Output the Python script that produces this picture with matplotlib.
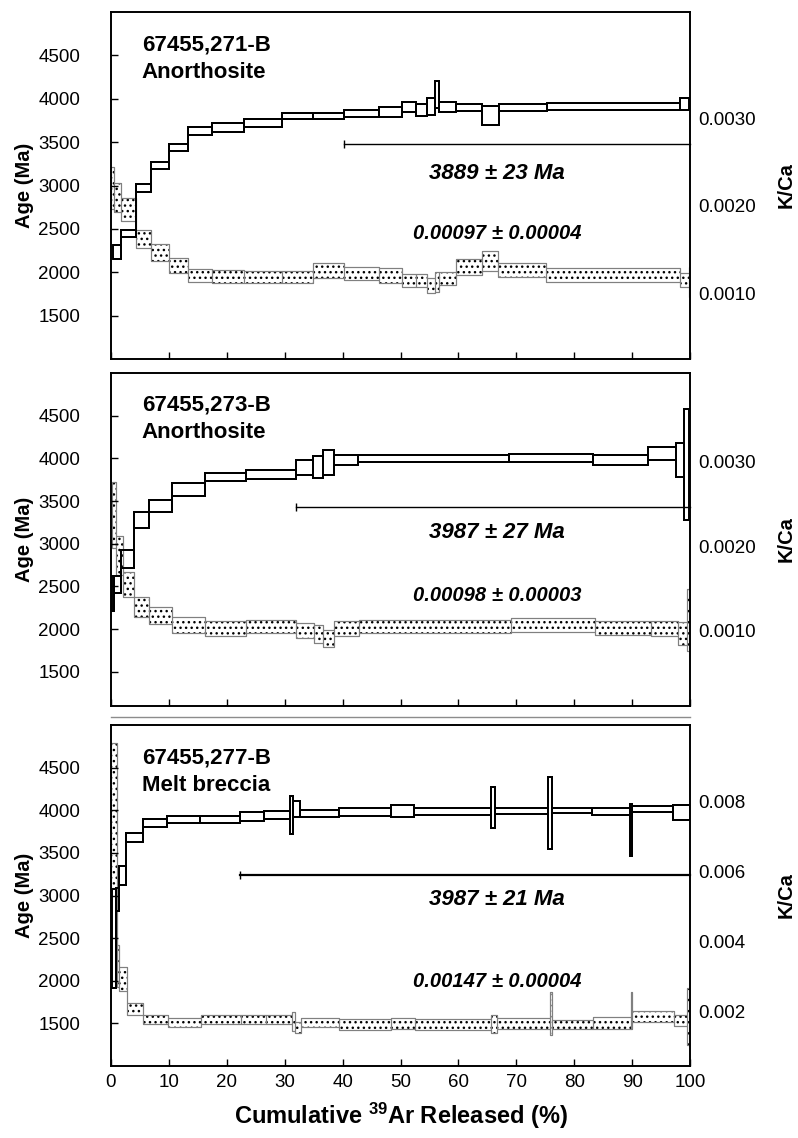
import matplotlib
matplotlib.use('Agg')
import matplotlib.pyplot as plt
import numpy as np

plt.rcParams['font.family'] = ['Liberation Sans', 'DejaVu Sans']
plt.rcParams['mathtext.fontset'] = 'custom'
plt.rcParams['mathtext.bf'] = 'Liberation Sans:bold'
plt.rcParams['mathtext.rm'] = 'Liberation Sans:bold'
plt.rcParams['mathtext.default'] = 'bf'
plt.rcParams['hatch.linewidth'] = 1.0

# ---------------- data ----------------
# Panel 1: 67455,271-B Anorthosite
p1_age_edges = [0.4, 1.7, 4.3, 6.9, 10.0, 13.3, 17.5, 23.0, 29.6, 34.9, 40.3, 46.3, 50.2,
                52.6, 54.6, 56.0, 56.6, 59.6, 64.1, 67.0, 75.3, 98.3, 99.9]
p1_age_lo = [2153, 2406, 2925, 3190, 3398, 3582, 3617, 3674, 3767, 3767, 3790, 3790, 3847,
             3800, 3813, 3893, 3847, 3858, 3697, 3858, 3870, 3870]
p1_age_hi = [2314, 2487, 3017, 3271, 3478, 3674, 3720, 3767, 3836, 3836, 3870, 3905, 3963,
             3940, 4010, 4205, 3963, 3940, 3917, 3940, 3951, 4010]
p1_kca_edges = [0, 0.5, 1.7, 4.3, 6.9, 10.0, 13.3, 17.5, 23.0, 29.6, 34.9, 40.3, 46.3, 50.2,
                52.6, 54.6, 56.0, 56.6, 59.6, 64.1, 66.8, 75.2, 98.3, 99.8, 100]
p1_kca_lo = [0.00196, 0.00193, 0.00183, 0.00152, 0.00137, 0.00123, 0.00113, 0.00112, 0.00112,
             0.00112, 0.00118, 0.00115, 0.00112, 0.00107, 0.00107, 0.00100, 0.00101, 0.00109,
             0.00121, 0.00126, 0.00119, 0.00113, 0.00107, 0.00096]
p1_kca_hi = [0.00244, 0.00226, 0.00209, 0.00172, 0.00156, 0.00140, 0.00128, 0.00127, 0.00126,
             0.00126, 0.00135, 0.00130, 0.00129, 0.00122, 0.00122, 0.00117, 0.00124, 0.00124,
             0.00139, 0.00148, 0.00135, 0.00129, 0.00123, 0.00130]

# Panel 2: 67455,273-B Anorthosite
p2_age_edges = [0.1, 0.5, 1.8, 4.0, 6.5, 10.5, 16.2, 23.3, 31.9, 34.9, 36.6, 38.5, 42.7,
                68.8, 83.3, 92.8, 97.6, 99.0, 99.9]
p2_age_lo = [2217, 2427, 2717, 3180, 3368, 3563, 3731, 3759, 3809, 3766, 3809, 3922, 3953,
             3953, 3926, 3981, 3786, 3282]
p2_age_hi = [2627, 2627, 2927, 3376, 3516, 3712, 3829, 3868, 3981, 4032, 4102, 4043, 4043,
             4051, 4039, 4137, 4176, 4578]
p2_kca_edges = [0.2, 0.9, 2.0, 4.0, 6.6, 10.5, 16.2, 23.3, 31.9, 35.1, 36.7, 38.6, 42.8,
                69.1, 83.6, 93.2, 98.0, 99.5, 100]
p2_kca_lo = [0.00198, 0.00166, 0.00140, 0.00116, 0.00108, 0.00097, 0.00094, 0.00097, 0.00091,
             0.00086, 0.00081, 0.00094, 0.00097, 0.00099, 0.00095, 0.00094, 0.00083, 0.00076]
p2_kca_hi = [0.00276, 0.00212, 0.00170, 0.00140, 0.00128, 0.00116, 0.00111, 0.00113, 0.00109,
             0.00107, 0.00101, 0.00111, 0.00113, 0.00115, 0.00111, 0.00111, 0.00110, 0.00149]

# Panel 3: 67455,277-B Melt breccia
p3_age_edges = [0.2, 0.9, 1.3, 2.6, 5.5, 9.7, 15.3, 22.3, 26.5, 30.9, 31.5, 32.7, 39.3, 48.3,
                52.4, 65.6, 66.4, 75.5, 76.1, 83.0, 89.6, 90.0, 97.0, 100]
p3_age_lo = [1920, 2820, 3125, 3622, 3798, 3856, 3845, 3876, 3892, 3720, 3915, 3915, 3935,
             3915, 3943, 3791, 3955, 3544, 3962, 3947, 3466, 3982, 3888]
p3_age_hi = [3080, 3090, 3350, 3732, 3903, 3931, 3927, 3982, 3994, 4169, 4111, 4002, 4025,
             4060, 4032, 4275, 4025, 4392, 4032, 4025, 4079, 4052, 4060]
p3_kca_edges = [0, 1.0, 1.4, 2.7, 5.6, 9.8, 15.5, 22.5, 26.7, 31.2, 31.7, 32.8, 39.4, 48.3,
                52.5, 65.7, 66.6, 75.8, 76.1, 83.2, 89.8, 90.0, 97.2, 99.5, 100]
p3_kca_lo = [0.00551, 0.00270, 0.00258, 0.00189, 0.00163, 0.00156, 0.00163, 0.00163, 0.00163,
             0.00145, 0.00137, 0.00154, 0.00148, 0.00151, 0.00148, 0.00139, 0.00151, 0.00132,
             0.00149, 0.00151, 0.00149, 0.00170, 0.00158, 0.00104]
p3_kca_hi = [0.00965, 0.00389, 0.00326, 0.00223, 0.00189, 0.00181, 0.00189, 0.00189, 0.00189,
             0.00199, 0.00170, 0.00181, 0.00177, 0.00181, 0.00177, 0.00189, 0.00181, 0.00255,
             0.00175, 0.00185, 0.00255, 0.00201, 0.00189, 0.00266]

sample_names = ["67455,271-B\nAnorthosite", "67455,273-B\nAnorthosite", "67455,277-B\nMelt breccia"]
plateau_start = [40.3, 31.9, 22.2]
plateau_level = [3475, 3426, 3243]
age_texts = ["3889 ± 23 Ma", "3987 ± 27 Ma", "3987 ± 21 Ma"]
kca_texts = ["0.00097 ± 0.00004", "0.00098 ± 0.00003", "0.00147 ± 0.00004"]

age_ticks = [1500, 2000, 2500, 3000, 3500, 4000, 4500]
kca_ticks = [[0.0010, 0.0020, 0.0030], [0.0010, 0.0020, 0.0030], [0.002, 0.004, 0.006, 0.008]]
kca_ticklabels = [["0.0010", "0.0020", "0.0030"], ["0.0010", "0.0020", "0.0030"],
                  ["0.002", "0.004", "0.006", "0.008"]]
x_ticks = list(range(0, 101, 10))

# ---------------- layout ----------------
W, H = 798, 1138
fig = plt.figure(figsize=(W / 100, H / 100), dpi=100)

panel_px = [(12, 359), (373, 706), (725, 1066)]
age_lims = [(1000, 5000), (1100, 5000), (1000, 5000)]
kca_lims = [(0.000249, 0.004215), (0.00011, 0.00405), (0.00044, 0.01017)]
age_text_y = [0.536, 0.52, 0.487]
kca_text_y = [0.363, 0.333, 0.247]
plat_lw = [1.0, 1.0, 1.6]

panels = [
    (p1_age_edges, p1_age_lo, p1_age_hi, p1_kca_edges, p1_kca_lo, p1_kca_hi),
    (p2_age_edges, p2_age_lo, p2_age_hi, p2_kca_edges, p2_kca_lo, p2_kca_hi),
    (p3_age_edges, p3_age_lo, p3_age_hi, p3_kca_edges, p3_kca_lo, p3_kca_hi),
]

TICK_FS = 13.5
AGE_LW = 1.4
KCA_LW = 0.8
KCA_EC = '0.5'
for i, (ae, alo, ahi, ke, klo, khi) in enumerate(panels):
    top, bot = panel_px[i]
    ax = fig.add_axes([111 / W, 1 - bot / H, 579 / W, (bot - top) / H])
    ax2 = ax.twinx()
    ax.set_zorder(ax2.get_zorder() + 1)
    ax.patch.set_visible(False)

    ae = np.array(ae); alo = np.array(alo); ahi = np.array(ahi)
    ke = np.array(ke); klo = np.array(klo); khi = np.array(khi)

    # K/Ca spectrum (dotted boxes, connected staircase)
    ax2.bar(ke[:-1], khi - klo, width=np.diff(ke), bottom=klo, align='edge',
            color='white', edgecolor='black', linewidth=0, hatch='...', zorder=1)
    ax2.bar(ke[:-1], khi - klo, width=np.diff(ke), bottom=klo, align='edge',
            fill=False, edgecolor=KCA_EC, linewidth=KCA_LW, zorder=2)
    ax2.stairs(khi, ke, baseline=None, color=KCA_EC, lw=KCA_LW, zorder=2)
    ax2.stairs(klo, ke, baseline=None, color=KCA_EC, lw=KCA_LW, zorder=2)

    # Age spectrum (open boxes, connected staircase)
    ax.bar(ae[:-1], ahi - alo, width=np.diff(ae), bottom=alo, align='edge',
           fill=False, edgecolor='black', linewidth=AGE_LW, zorder=3)
    ax.stairs(ahi, ae, baseline=None, color='black', lw=AGE_LW, zorder=3)
    ax.stairs(alo, ae, baseline=None, color='black', lw=AGE_LW, zorder=3)

    # plateau line
    ax.plot([plateau_start[i], 100], [plateau_level[i], plateau_level[i]],
            color='black', lw=plat_lw[i], zorder=3, clip_on=False)
    ax.plot([plateau_start[i]], [plateau_level[i]], marker='|', markersize=6,
            color='black', mew=1.0, zorder=3)

    ax.set_xlim(0, 100)
    ax.set_ylim(*age_lims[i])
    ax2.set_ylim(*kca_lims[i])
    ax.set_yticks(age_ticks)
    ax.set_yticklabels([str(t) for t in age_ticks], fontsize=TICK_FS)
    ax2.set_yticks(kca_ticks[i])
    ax2.set_yticklabels(kca_ticklabels[i], fontsize=TICK_FS)
    ax.set_xticks(x_ticks)
    if i < 2:
        ax.set_xticklabels([])
    else:
        ax.set_xticklabels([str(t) for t in x_ticks], fontsize=TICK_FS)
    ax.tick_params(axis='y', direction='in', length=5, width=1.0, pad=22, left=True, right=False)
    ax.tick_params(axis='x', direction='in', length=5, width=1.0, pad=6, top=False)
    ax2.tick_params(axis='y', length=0, pad=6)
    for a in (ax, ax2):
        for s in a.spines.values():
            s.set_linewidth(1.2)

    ax.set_ylabel("Age (Ma)", fontsize=14.5, fontweight='bold')
    ax.yaxis.set_label_coords(-0.133, 0.5)
    ax2.set_ylabel("K/Ca", fontsize=14.5, fontweight='bold')
    ax2.yaxis.set_label_coords(1.150, 0.5)

    ax.text(0.053, 0.935, sample_names[i], transform=ax.transAxes, ha='left', va='top',
            fontsize=16, fontweight='bold', linespacing=1.4)
    ax.text(0.667, age_text_y[i], age_texts[i], transform=ax.transAxes, ha='center',
            va='center', fontsize=16, fontweight='bold', style='italic')
    ax.text(0.667, kca_text_y[i], kca_texts[i], transform=ax.transAxes, ha='center',
            va='center', fontsize=14.5, fontweight='bold', style='italic')

    if i == 2:
        ax.set_xlabel(r"Cumulative $^{39}$Ar Released (%)", fontsize=17, fontweight='bold',
                      labelpad=7)

# separator line between panels 2 and 3
fig.add_artist(plt.Line2D([111 / W, 690 / W], [1 - 717 / H, 1 - 717 / H],
                          color='0.55', lw=1.0, transform=fig.transFigure))

fig.savefig('out.png', dpi=100)
